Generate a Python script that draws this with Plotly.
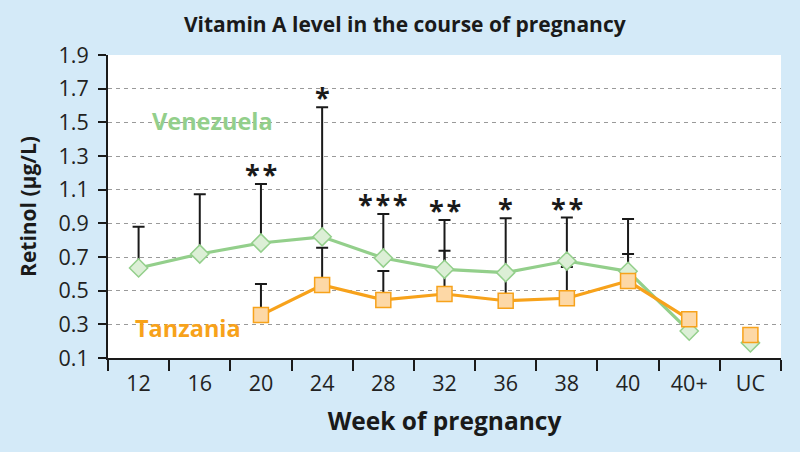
import plotly.graph_objects as go

weeks = ["12", "16", "20", "24", "28", "32", "36", "38", "40", "40+", "UC"]

ven_values = [0.635, 0.718, 0.783, 0.82, 0.694, 0.627, 0.607, 0.676, 0.615, 0.26, 0.19]
ven_upper = [0.88, 1.073, 1.134, 1.59, 0.955, 0.92, 0.93, 0.934, 0.926, None, None]

tan_weeks = ["20", "24", "28", "32", "36", "38", "40", "40+", "UC"]
tan_values = [0.355, 0.534, 0.445, 0.48, 0.44, 0.455, 0.557, 0.33, 0.237]
tan_upper = [0.54, 0.755, 0.617, 0.737, 0.6, 0.64, 0.718, None, None]

stars = {"20": "**", "24": "*", "28": "***", "32": "**", "36": "*", "38": "**"}

y_ticks = [0.1, 0.3, 0.5, 0.7, 0.9, 1.1, 1.3, 1.5, 1.7, 1.9]

GREEN = "#93cf8b"
GREEN_FILL = "#dcefd6"
ORANGE = "#f7a21b"
ORANGE_FILL = "#fdd8a6"
BG = "#d4eaf8"
INK = "#1a1a1a"
FONT = "Open Sans"


def err_plus(vals, ups):
    return [(u - v) if u is not None else 0 for v, u in zip(vals, ups)]


fig = go.Figure()

# error bars drawn first (behind markers)
for xs, vals, ups in [(weeks, ven_values, ven_upper), (tan_weeks, tan_values, tan_upper)]:
    fig.add_trace(go.Scatter(
        x=xs, y=vals, mode="markers",
        marker=dict(size=1, color="rgba(0,0,0,0)"),
        error_y=dict(type="data", symmetric=False, array=err_plus(vals, ups),
                     arrayminus=[0] * len(vals), color=INK, thickness=2, width=6),
        hoverinfo="skip", showlegend=False,
    ))

series = [
    (weeks, ven_values, GREEN, GREEN_FILL, "diamond", 14),
    (tan_weeks, tan_values, ORANGE, ORANGE_FILL, "square", 15),
]
for xs, vals, col, fill, sym, size in series:
    mk = dict(symbol=sym, size=size, color=fill, line=dict(color=col, width=1.5))
    # connected weeks (12 .. 40+)
    fig.add_trace(go.Scatter(x=xs[:-1], y=vals[:-1], mode="lines+markers",
                             line=dict(color=col, width=3.2), marker=mk, showlegend=False))
    # umbilical cord (UC) value, not connected
    fig.add_trace(go.Scatter(x=xs[-1:], y=vals[-1:], mode="markers",
                             marker=mk, showlegend=False))

annotations = []
for wk, s in stars.items():
    i = weeks.index(wk)
    annotations.append(dict(
        x=i, y=ven_upper[i], text="<b>" + "\u200a".join(s) + "</b>", showarrow=False,
        xanchor="center", yanchor="bottom", yshift=-10,
        font=dict(family=FONT, size=27, color=INK),
    ))
annotations.append(dict(x=0.063, xref="paper", y=1.51, yref="y", text="<b>Venezuela</b>",
                        showarrow=False, xanchor="left", yanchor="middle",
                        font=dict(family=FONT, size=23.5, color=GREEN)))
annotations.append(dict(x=0.037, xref="paper", y=0.28, yref="y", text="<b>Tanzania</b>",
                        showarrow=False, xanchor="left", yanchor="middle",
                        font=dict(family=FONT, size=23.5, color=ORANGE)))

fig.update_layout(
    width=800, height=452,
    paper_bgcolor=BG, plot_bgcolor="white",
    margin=dict(l=108, r=19, t=55, b=94),
    title=dict(text="<b>Vitamin A level in the course of pregnancy</b>", x=0.506, xanchor="center",
               y=0.946, yanchor="middle", font=dict(family=FONT, size=21, color=INK)),
    font=dict(family=FONT, color="#222"),
    annotations=annotations,
)

fig.update_xaxes(
    type="category", categoryorder="array", categoryarray=weeks,
    range=[-0.5, len(weeks) - 0.5], automargin=False,
    showline=True, linecolor=INK, linewidth=2,
    ticks="outside", tickson="boundaries", ticklen=11, tickwidth=2, tickcolor=INK,
    ticklabelstandoff=5,
    showgrid=False,
    tickfont=dict(family=FONT, size=21.5, color="#222"),
    title=dict(text="<b>Week of pregnancy</b>", font=dict(family=FONT, size=24.5, color=INK), standoff=17),
)

fig.update_yaxes(
    range=[0.1, 1.9], tickvals=y_ticks, ticktext=[f"{v:.1f}" for v in y_ticks],
    automargin=False,
    showline=True, linecolor=INK, linewidth=2,
    ticks="outside", ticklen=8, tickwidth=2, tickcolor=INK, ticklabelstandoff=5,
    showgrid=True, gridcolor="#9a9a9a", gridwidth=1.3, griddash="4px,4px",
    zeroline=False,
    tickfont=dict(family=FONT, size=21.5, color="#222"),
    title=dict(text="<b>Retinol (µg/L)</b>", font=dict(family=FONT, size=21, color=INK), standoff=16),
)

fig.write_html("out.html", config={"displayModeBar": False},
               post_script="document.body.style.margin='0';")
